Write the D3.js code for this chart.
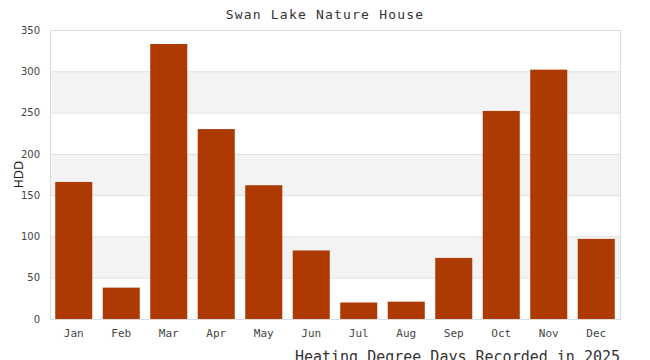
<!DOCTYPE html>
<html>
<head>
<meta charset="utf-8">
<script src="https://cdn.jsdelivr.net/npm/d3@7"></script>
<style>
    body { margin: 0; background: #fff; }
    svg { display: block; }
</style>
</head>
<body>
<div id="chart"></div>
<script>
const months = ['Jan', 'Feb', 'Mar', 'Apr', 'May', 'Jun', 'Jul', 'Aug', 'Sep', 'Oct', 'Nov', 'Dec'];
const hdd = [166, 38, 333, 230, 162, 83, 20, 21, 74, 252, 302, 97];
const yTicks = [0, 50, 100, 150, 200, 250, 300, 350];

const title = 'Swan Lake Nature House';
const caption = 'Heating Degree Days Recorded in 2025';

const margin = {top: 30, right: 30, bottom: 41, left: 50};
const width = 650 - margin.left - margin.right;
const height = 360 - margin.top - margin.bottom;

const svg = d3.select('#chart').append('svg')
    .attr('width', 650)
    .attr('height', 360);

const g = svg.append('g')
    .attr('transform', 'translate(' + margin.left + ',' + margin.top + ')');

const x = d3.scaleBand()
    .domain(months)
    .range([0, width])
    .paddingInner(0.22)
    .paddingOuter(0.11);

const y = d3.scaleLinear()
    .domain([0, 350])
    .range([height, 0]);

// alternating bands between ticks
const bands = d3.pairs(yTicks);
g.selectAll('.band')
    .data(bands)
    .enter()
  .append('rect')
    .attr('class', 'band')
    .attr('x', 0)
    .attr('width', width)
    .attr('y', (d) => y(d[1]))
    .attr('height', (d) => y(d[0]) - y(d[1]))
    .style('fill', (d, i) => i % 2 === 1 ? '#f3f3f3' : '#fff');

// grid
g.append('g')
    .attr('class', 'grid')
    .call(d3.axisLeft(y).tickValues(yTicks).tickSize(-width).tickFormat(''))
    .call((s) => s.select('.domain').remove())
    .call((s) => s.selectAll('line').style('stroke', '#e0e0e0'));

g.selectAll('.bar')
    .data(hdd)
    .enter()
  .append('rect')
    .attr('class', 'bar')
    .attr('x', (d, i) => x(months[i]))
    .attr('width', x.bandwidth())
    .attr('y', (d) => y(d))
    .attr('height', (d) => y(0) - y(d))
    .style('fill', '#ad3a03');

// plot frame
g.append('rect')
    .attr('x', 0.5)
    .attr('y', 0.5)
    .attr('width', width)
    .attr('height', height)
    .style('fill', 'none')
    .style('stroke', '#dcdcdc');

const yAxis = g.append('g')
    .call(d3.axisLeft(y).tickValues(yTicks).tickSize(0).tickPadding(10));
yAxis.select('.domain').remove();
yAxis.selectAll('text')
    .style('font', '10px "DejaVu Sans"')
    .style('fill', '#444');

const xAxis = g.append('g')
    .attr('transform', 'translate(0,' + height + ')')
    .call(d3.axisBottom(x).tickSize(0).tickPadding(10));
xAxis.select('.domain').remove();
xAxis.selectAll('text')
    .style('font', '11px "DejaVu Sans Mono"')
    .style('fill', '#444');

svg.append('text')
    .attr('x', 325)
    .attr('y', 19)
    .attr('text-anchor', 'middle')
    .style('font', '13px "DejaVu Sans Mono"')
    .style('letter-spacing', '1.2px')
    .style('fill', '#333')
    .text(title);

svg.append('text')
    .attr('transform', 'translate(23,' + (margin.top + height / 2) + ') rotate(-90)')
    .attr('text-anchor', 'middle')
    .style('font', '12px "DejaVu Sans"')
    .style('fill', '#222')
    .text('HDD');

svg.append('text')
    .attr('x', 620)
    .attr('y', 362)
    .attr('text-anchor', 'end')
    .style('font', '15px "DejaVu Sans Mono"')
    .style('fill', '#333')
    .text(caption);
</script>
</body>
</html>
